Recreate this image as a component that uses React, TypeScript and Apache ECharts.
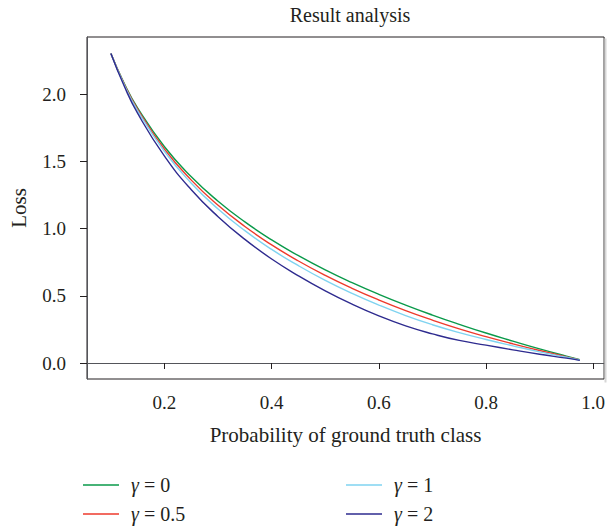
import React, { useEffect, useRef } from "react";
import * as echarts from "echarts";

const probs = [0.1, 0.125, 0.15, 0.2, 0.25, 0.3, 0.35, 0.4, 0.45, 0.5, 0.55, 0.6, 0.65, 0.7, 0.75, 0.8, 0.85, 0.9, 0.95, 0.975];
const gamma0 = [2.303, 2.079, 1.897, 1.609, 1.386, 1.204, 1.05, 0.916, 0.799, 0.693, 0.598, 0.511, 0.431, 0.357, 0.288, 0.223, 0.163, 0.105, 0.051, 0.025];
const gamma05 = [2.303, 2.074, 1.887, 1.591, 1.361, 1.174, 1.016, 0.879, 0.759, 0.652, 0.556, 0.469, 0.39, 0.319, 0.254, 0.196, 0.143, 0.093, 0.046, 0.023];
const gamma1 = [2.303, 2.069, 1.877, 1.574, 1.338, 1.146, 0.985, 0.845, 0.724, 0.615, 0.518, 0.431, 0.353, 0.285, 0.226, 0.175, 0.128, 0.083, 0.043, 0.022];
const gamma2 = [2.303, 2.059, 1.857, 1.539, 1.289, 1.089, 0.92, 0.774, 0.649, 0.537, 0.438, 0.351, 0.276, 0.217, 0.168, 0.133, 0.098, 0.065, 0.036, 0.02];

const seriesNames = ["γ = 0", "γ = 0.5", "γ = 1", "γ = 2"];
const seriesValues = [gamma0, gamma05, gamma1, gamma2];
const seriesColors = ["#0a9a4a", "#ee3a2c", "#7fd3f0", "#2e2b8f"];
const xTicks = [0.2, 0.4, 0.6, 0.8, 1.0];
const yTicks = [0, 0.5, 1.0, 1.5, 2.0];

const FONT = "'Liberation Serif', 'DejaVu Serif', serif";
const INK = "#231f20";

export default function App() {
  const ref = useRef<HTMLDivElement>(null);
  useEffect(() => {
    document.body.style.margin = "0";
    document.body.style.overflow = "hidden";
    if (!ref.current) return;
    const chart = echarts.init(ref.current, null, { renderer: "svg" });
    const legendText = {
      fontFamily: FONT,
      fontSize: 20,
      color: INK,
      lineHeight: 20,
      rich: {
        s: { width: 7, fontFamily: FONT, fontSize: 20 },
        i: { fontStyle: "italic", fontFamily: FONT, fontSize: 20, color: INK },
        n: { fontFamily: FONT, fontSize: 20, color: INK },
      },
    };
    const fmt = (name: string) => `{s| }{i|γ}{n|${name.slice(1)}}`;
    const legendBase = {
      orient: "vertical",
      top: 475,
      padding: 0,
      itemWidth: 36,
      itemHeight: 1.5,
      itemGap: 9,
      icon: "rect",
      formatter: fmt,
      textStyle: legendText,
    };
    chart.setOption({
      animation: false,
      backgroundColor: "#ffffff",
      title: {
        text: "Result analysis",
        left: 345,
        top: 0,
        textAlign: "center",
        textStyle: { fontFamily: FONT, fontSize: 20, fontWeight: "normal", color: INK },
      },
      grid: {
        left: 83,
        top: 37,
        width: 524,
        height: 342,
        show: true,
        borderColor: INK,
        borderWidth: 1,
        backgroundColor: "transparent",
      },
      graphic: [
        {
          type: "line",
          right: 0,
          top: 36,
          shape: { x1: 0, y1: 0, x2: 0, y2: 344 },
          style: { stroke: "#d6d6d6", lineWidth: 2 },
          z: 100,
        },
      ],
      legend: [
        { ...legendBase, data: seriesNames.slice(0, 2), left: 83 },
        { ...legendBase, data: seriesNames.slice(2, 4), left: 346 },
      ],
      xAxis: {
        type: "value",
        min: 0.0554,
        max: 1.0203,
        name: "Probability of ground truth class",
        nameLocation: "middle",
        nameGap: 45,
        nameTextStyle: { fontFamily: FONT, fontSize: 21, color: INK },
        axisTick: { show: true, length: 6, customValues: xTicks, lineStyle: { color: INK } },
        axisLabel: {
          customValues: xTicks,
          margin: 14,
          fontFamily: FONT,
          fontSize: 19,
          color: INK,
          formatter: (v: number) => v.toFixed(1),
        },
        splitLine: { show: false },
      },
      yAxis: {
        type: "value",
        min: -0.119,
        max: 2.426,
        name: "Loss",
        nameLocation: "middle",
        nameGap: 58,
        nameTextStyle: { fontFamily: FONT, fontSize: 21, color: INK },
        axisTick: { show: true, length: 7, customValues: yTicks, lineStyle: { color: INK } },
        axisLabel: {
          customValues: yTicks,
          margin: 21,
          fontFamily: FONT,
          fontSize: 19,
          color: INK,
          formatter: (v: number) => v.toFixed(1),
        },
        splitLine: { show: false },
      },
      series: seriesNames.map((name, k) => ({
        name,
        type: "line",
        smooth: true,
        symbol: "none",
        data: probs.map((p, i) => [p, seriesValues[k][i]]),
        lineStyle: { color: seriesColors[k], width: 1.4 },
        itemStyle: { color: seriesColors[k] },
      })),
    });
    return () => chart.dispose();
  }, []);
  return <div ref={ref} style={{ width: 608, height: 529 }} />;
}
